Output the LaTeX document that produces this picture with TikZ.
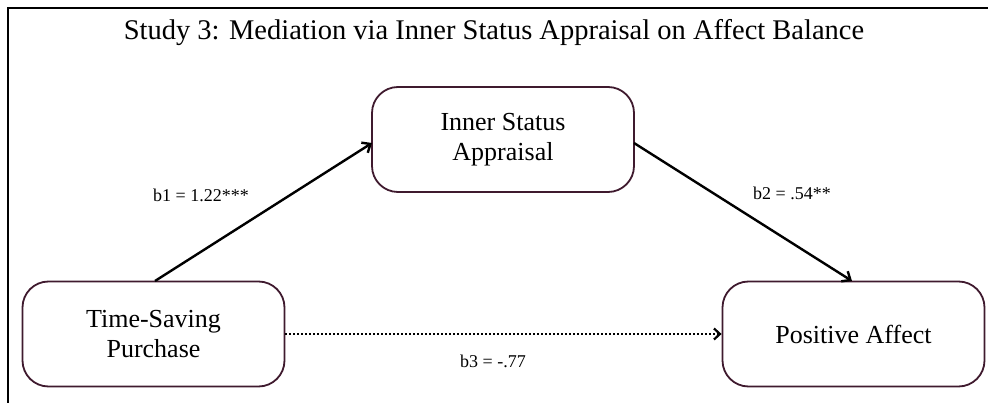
\documentclass[tikz,border=0pt]{standalone}
\usepackage{fontspec}
\setmainfont{Liberation Serif}
\usetikzlibrary{arrows.meta}
\definecolor{boxcol}{HTML}{3F1A2E}
\tikzset{
  x=1pt, y=-1pt,
  vbox/.style={draw=boxcol, line width=1.8pt, rounded corners=26pt, align=center,
    font=\fontsize{26}{30}\selectfont, inner sep=0pt},
  coef/.style={font=\fontsize{18}{20}\selectfont, inner sep=0pt},
  link/.style={line width=2.4pt, -{Straight Barb[length=7pt,width=12pt,line width=2.4pt]}},
  dotlink/.style={line width=2.2pt, dash pattern=on 2pt off 2pt, -{Straight Barb[length=6pt,width=11pt,line width=2.2pt]}}
}
\begin{document}
\begin{tikzpicture}
\useasboundingbox (0,0) rectangle (988,403);
\draw[line width=2pt] (8,403) -- (8,8) -- (988,8);
\node[font=\fontsize{28.5}{32}\selectfont, inner sep=0pt] (title) at (494,33) {Study 3: Mediation via Inner Status Appraisal on Affect Balance};
\node[vbox, minimum width=262pt, minimum height=105pt] (tsp) at (153.5,334) {Time-Saving\\Purchase};
\node[vbox, minimum width=262pt, minimum height=105pt] (isa) at (503,139.5) {Inner Status\\Appraisal};
\node[vbox, minimum width=262pt, minimum height=105pt] (pa) at (853.5,334) {Positive Affect};
\coordinate (s1) at (155,281);
\coordinate (e1) at (372,143);
\coordinate (s2) at (634,143);
\coordinate (e2) at (852,281);
\draw[link] (s1) -- (e1);
\draw[link] (s2) -- (e2);
\draw[dotlink] (tsp.east) -- (pa.west);
\node[coef] (b1) at (201,195) {b1 = 1.22***};
\node[coef] (b2) at (792,193) {b2 = .54**};
\node[coef] (b3) at (493,361) {b3 = -.77};
\end{tikzpicture}
\end{document}
